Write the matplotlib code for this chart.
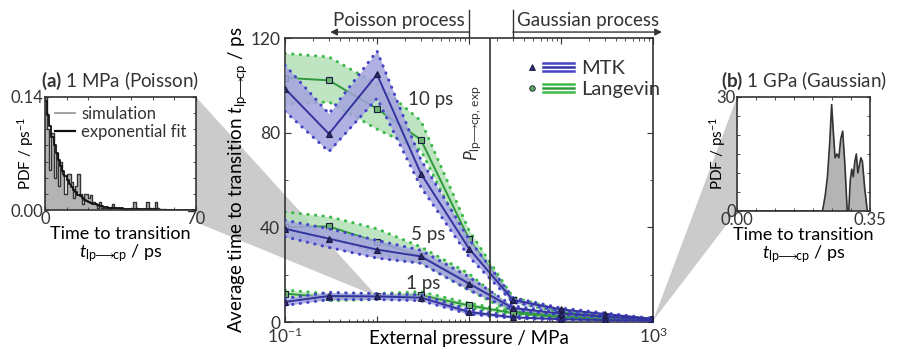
import numpy as np
import matplotlib
matplotlib.use("Agg")
import matplotlib.pyplot as plt
from matplotlib.lines import Line2D
from matplotlib.patches import Polygon
from matplotlib.legend_handler import HandlerBase
from matplotlib.ticker import LogLocator, FixedLocator, MultipleLocator, NullFormatter

plt.rcParams['font.family'] = ['Lato', 'DejaVu Sans']
plt.rcParams['mathtext.fontset'] = 'custom'
plt.rcParams['mathtext.rm'] = 'Lato'
plt.rcParams['mathtext.it'] = 'Lato:italic'
plt.rcParams['mathtext.bf'] = 'Lato:bold'
plt.rcParams['axes.edgecolor'] = '#333333'
plt.rcParams['text.color'] = '#333333'
plt.rcParams['xtick.color'] = '#333333'
plt.rcParams['ytick.color'] = '#333333'

# ---- data: main panel (external pressure in MPa, time in ps) ----
pressure = [0.1, 0.3, 1, 3, 10, 30, 100, 300, 1000]
p_exp = 17

mtk_10 = [98.6, 79.5, 104.6, 62.7, 31.0, 9.3, 5.3, 3.4, 1.3]
mtk_10_hi = [108.5, 88.0, 114.5, 68.5, 35.0, 10.3, 5.9, 3.8, 1.5]
mtk_10_lo = [89.0, 72.0, 94.5, 57.0, 27.5, 8.3, 4.7, 3.0, 1.1]

lan_10 = [103.2, 102.1, 90.1, 77.0, 35.0, 9.5, 4.5, 2.5, 1.2]
lan_10_hi = [113.5, 112.0, 100.5, 85.0, 38.7, 10.5, 5.0, 2.8, 1.4]
lan_10_lo = [92.0, 93.0, 81.5, 72.5, 31.5, 8.5, 4.0, 2.2, 1.0]

mtk_5 = [39.4, 35.2, 30.6, 27.7, 16.2, 5.9, 3.5, 2.3, 1.0]
mtk_5_hi = [43.0, 39.4, 34.5, 30.3, 19.0, 6.8, 4.0, 2.6, 1.2]
mtk_5_lo = [36.0, 31.5, 27.0, 24.8, 13.5, 5.0, 3.0, 2.0, 0.8]

lan_5 = [40.1, 40.4, 33.8, 27.9, 16.9, 4.5, 2.8, 1.8, 0.9]
lan_5_hi = [46.5, 44.5, 39.4, 31.7, 20.4, 5.3, 3.2, 2.1, 1.1]
lan_5_lo = [36.0, 36.0, 29.0, 25.0, 13.5, 3.8, 2.4, 1.5, 0.7]

mtk_1 = [8.5, 11.0, 10.8, 10.3, 4.2, 2.0, 1.2, 0.8, 0.5]
mtk_1_hi = [10.0, 12.5, 12.0, 11.5, 5.2, 2.5, 1.5, 1.0, 0.6]
mtk_1_lo = [7.0, 9.5, 9.5, 9.0, 3.3, 1.6, 0.9, 0.6, 0.4]

lan_1 = [12.0, 10.4, 10.8, 11.3, 7.0, 3.8, 2.0, 1.3, 0.8]
lan_1_hi = [13.5, 12.0, 12.0, 12.8, 8.0, 4.4, 2.4, 1.6, 1.0]
lan_1_lo = [10.5, 9.0, 9.5, 10.0, 6.0, 3.2, 1.7, 1.1, 0.6]

# ---- data: inset (a), 1 MPa, 1 ps bins ----
t_a = list(range(0, 71))
sim_a = [0.140, 0.100, 0.050, 0.095, 0.040, 0.070, 0.030, 0.060, 0.045, 0.020,
         0.045, 0.045, 0.035, 0.015, 0.030, 0.045, 0.020, 0.008, 0.020, 0.020,
         0.015, 0.018, 0.010, 0.008, 0.003, 0.010, 0.003, 0.003, 0.002, 0.002,
         0.004, 0.008, 0.002, 0.002, 0.002, 0.001, 0.001, 0.001, 0.001, 0.001,
         0.001, 0.010, 0.002, 0.001, 0.001, 0.001, 0.001, 0.010, 0.002, 0.001,
         0.001, 0.010, 0.002, 0.001, 0.001, 0.001, 0.000, 0.000, 0.000, 0.000,
         0.000, 0.000, 0.000, 0.000, 0.000, 0.000, 0.000, 0.000, 0.000, 0.000]
fit_a = [0.135, 0.118, 0.104, 0.091, 0.080, 0.070, 0.062, 0.054, 0.048, 0.042,
         0.037, 0.032, 0.028, 0.025, 0.022, 0.019, 0.017, 0.015, 0.013, 0.011,
         0.010, 0.009, 0.008, 0.007, 0.006, 0.005, 0.005, 0.004, 0.004, 0.003,
         0.003, 0.003, 0.002, 0.002, 0.002, 0.002, 0.001, 0.001, 0.001, 0.001,
         0.001, 0.001, 0.001, 0.001, 0.001, 0.001, 0.001, 0.001, 0.001, 0.001,
         0.001, 0.001, 0.000, 0.000, 0.000, 0.000, 0.000, 0.000, 0.000, 0.000,
         0.000, 0.000, 0.000, 0.000, 0.000, 0.000, 0.000, 0.000, 0.000, 0.000]

# ---- data: inset (b), 1 GPa ----
t_b = [0.00, 0.225, 0.232, 0.238, 0.244, 0.249, 0.254, 0.258, 0.263, 0.268, 0.273,
       0.278, 0.284, 0.290, 0.294, 0.298, 0.302, 0.306, 0.310, 0.314, 0.318, 0.322,
       0.326, 0.330, 0.336, 0.343, 0.35]
pdf_b = [0, 0, 4, 9, 18, 28, 20, 14, 15, 14, 19, 21, 12, 0, 0, 8, 11, 9, 13, 15,
         10, 12, 14, 13, 6, 0, 0]

c_mtk, c_mtk_band, c_mtk_dot = '#34349e', '#a3a3de', '#4545c8'
c_lan, c_lan_band, c_lan_dot = '#2f9a3c', '#b3e0b8', '#3dbb4a'
c_wedge = '#cbcbcb'
arrow_lbl = r'_{\mathrm{lp\!\!\longrightarrow\!\!cp}}'

fig = plt.figure(figsize=(9.04, 3.51), dpi=100)
ax = fig.add_axes([0.3153, 0.0826, 0.4071, 0.8091])
ax_a = fig.add_axes([0.0498, 0.4017, 0.1670, 0.3220])
ax_b = fig.add_axes([0.8153, 0.3989, 0.1471, 0.3248])


def band(mean, lo, hi, line_c, band_c, dot_c, marker, mfc, z):
    ax.fill_between(pressure, lo, hi, color=band_c, alpha=0.85, lw=0, zorder=z)
    for edge in (hi, lo):
        ax.plot(pressure, edge, ls=(0, (0.1, 2.4)), lw=2.2, color=dot_c,
                zorder=z + 0.1, dash_capstyle='round')
    ax.plot(pressure, mean, color=line_c, lw=1.4, marker=marker, ms=4,
            mfc=mfc, mec='#1a1a40', mew=0.8, zorder=z + 0.2)


# Langevin drawn first, MTK on top
for m, lo, hi in [(lan_10, lan_10_lo, lan_10_hi), (lan_5, lan_5_lo, lan_5_hi),
                  (lan_1, lan_1_lo, lan_1_hi)]:
    band(m, lo, hi, c_lan, c_lan_band, c_lan_dot, 's', '#6fb56f', 2)
for m, lo, hi in [(mtk_10, mtk_10_lo, mtk_10_hi), (mtk_5, mtk_5_lo, mtk_5_hi),
                  (mtk_1, mtk_1_lo, mtk_1_hi)]:
    band(m, lo, hi, c_mtk, c_mtk_band, c_mtk_dot, '^', '#2a2a70', 3)

ax.axvline(p_exp, color='#333333', lw=1.2, zorder=5)
ax.set_xscale('log')
ax.set_xlim(0.1, 1000)
ax.set_ylim(0, 120)
ax.xaxis.set_minor_locator(LogLocator(base=10, subs=np.arange(2, 10), numticks=20))
ax.xaxis.set_minor_formatter(NullFormatter())
ax.set_xticks([0.1, 1, 10, 100, 1000])
ax.set_xticklabels(['10$^{-1}$', '', '', '', '10$^{3}$'])
ax.yaxis.set_major_locator(FixedLocator([0, 40, 80, 120]))
ax.yaxis.set_minor_locator(MultipleLocator(20))
ax.tick_params(which='both', direction='in', top=True, right=True, labelsize=12.5)
ax.tick_params(which='major', length=4)
ax.tick_params(which='minor', length=2.5)
ax.set_xlabel('External pressure / MPa', fontsize=13.5, labelpad=-12)
ax.set_ylabel(r'Average time to transition $t' + arrow_lbl + '$ / ps',
              fontsize=13.5, labelpad=1)
for s in ax.spines.values():
    s.set_linewidth(1.2)

ax.text(3.8, 94, '10 ps', fontsize=13.5, ha='center', va='center', zorder=6)
ax.text(3.6, 37, '5 ps', fontsize=13.5, ha='center', va='center', zorder=6)
ax.text(3.2, 16.3, '1 ps', fontsize=13.5, ha='center', va='center', zorder=6)
ax.text(p_exp * 0.86, 84, r'$P_{\mathrm{lp\!\!\longrightarrow\!\!cp,\,exp}}$',
        rotation=90, fontsize=12.5, ha='right', va='center', zorder=6)

# process annotations above the plot
xt = ax.get_xaxis_transform()
ax.plot([10, 10], [1.004, 1.1], color='#333333', lw=1, transform=xt, clip_on=False)
ax.plot([30, 30], [1.004, 1.1], color='#333333', lw=1, transform=xt, clip_on=False)
ax.annotate('', xy=(0.31, 1.021), xytext=(10, 1.021), xycoords=xt, textcoords=xt,
            arrowprops=dict(arrowstyle='-|>', color='#333333', lw=1,
                            mutation_scale=10, shrinkA=0, shrinkB=0))
ax.annotate('', xy=(1250, 1.021), xytext=(30, 1.021), xycoords=xt, textcoords=xt,
            arrowprops=dict(arrowstyle='-|>', color='#333333', lw=1,
                            mutation_scale=10, shrinkA=0, shrinkB=0))
ax.text(9.0, 1.03, 'Poisson process', transform=xt, ha='right', va='bottom',
        fontsize=13.5)
ax.text(33, 1.03, 'Gaussian process', transform=xt, ha='left', va='bottom',
        fontsize=13.5)


class BandKey:
    def __init__(self, dark, light, marker, mfc):
        self.dark, self.light, self.marker, self.mfc = dark, light, marker, mfc


class BandHandler(HandlerBase):
    def create_artists(self, legend, h, xdescent, ydescent, width, height,
                       fontsize, trans):
        yc = height / 2 - ydescent
        arts = [Line2D([-xdescent + 0.06 * width], [yc], marker=h.marker, ms=4,
                       mfc=h.mfc, mec='#1a1a40', mew=0.6, ls='none', transform=trans)]
        for dy, col in [(-0.28 * height, h.light), (0, h.dark), (0.28 * height, h.light)]:
            arts.append(Line2D([-xdescent + 0.3 * width, -xdescent + width],
                               [yc + dy, yc + dy], color=col, lw=1.8, transform=trans))
        return arts


hk = [BandKey(c_mtk, c_mtk_dot, '^', '#2a2a70'), BandKey(c_lan, c_lan_dot, 'o', '#5aa85a')]
ax.legend(hk, ['MTK', 'Langevin'], handler_map={BandKey: BandHandler()},
          loc='upper left', bbox_to_anchor=(0.615, 0.985), frameon=False,
          fontsize=14.5, handlelength=2.2, handletextpad=0.35, labelspacing=0.15)

# ---- inset (a) ----
ax_a.fill_between(t_a, sim_a + [sim_a[-1]], step='post', color='#b4b4b4', lw=0)
ax_a.step(t_a, sim_a + [sim_a[-1]], where='post', color='#333333', lw=1.0)
ax_a.step(t_a, fit_a + [fit_a[-1]], where='post', color='#111111', lw=1.3)
ax_a.plot([], [], color='#9a9a9a', lw=1.3, label='simulation')
ax_a.plot([], [], color='#111111', lw=1.6, label='exponential fit')
ax_a.set_xlim(0, 70)
ax_a.set_ylim(0, 0.14)
ax_a.set_xticks([0, 70])
ax_a.set_yticks([0, 0.14])
ax_a.set_yticklabels(['0.00', '0.14'])
ax_a.xaxis.set_minor_locator(MultipleLocator(10))
ax_a.yaxis.set_minor_locator(MultipleLocator(0.02))
ax_a.tick_params(which='both', direction='in', top=True, right=True, labelsize=12,
                 pad=1)
ax_a.tick_params(which='major', length=3)
ax_a.tick_params(which='minor', length=2)
ax_a.set_title(r'$\mathbf{(a)}$ 1 MPa (Poisson)', fontsize=13.5, pad=7)
ax_a.set_xlabel('Time to transition\n$t' + arrow_lbl + '$ / ps',
                fontsize=13, labelpad=-1, linespacing=1.0)
ax_a.set_ylabel('PDF / ps$^{-1}$', fontsize=11, labelpad=-18)
ax_a.legend(loc='upper right', frameon=False, fontsize=12, handlelength=1.2,
            handletextpad=0.4, labelspacing=0.1, borderaxespad=0.15)
for s in ax_a.spines.values():
    s.set_linewidth(1.2)

# ---- inset (b) ----
ax_b.fill_between(t_b, pdf_b, color='#b4b4b4', lw=0)
ax_b.plot(t_b, pdf_b, color='#333333', lw=1.2)
ax_b.set_xlim(0, 0.35)
ax_b.set_ylim(0, 30)
ax_b.set_xticks([0, 0.35])
ax_b.set_xticklabels(['0.00', '0.35'])
ax_b.set_yticks([0, 30])
ax_b.xaxis.set_minor_locator(MultipleLocator(0.05))
ax_b.yaxis.set_minor_locator(MultipleLocator(5))
ax_b.tick_params(which='both', direction='in', top=True, right=True, labelsize=12,
                 pad=1)
ax_b.tick_params(which='major', length=3)
ax_b.tick_params(which='minor', length=2)
ax_b.set_title(r'$\mathbf{(b)}$ 1 GPa (Gaussian)', fontsize=13.5, pad=7)
ax_b.set_xlabel('Time to transition\n$t' + arrow_lbl + '$ / ps',
                fontsize=13, labelpad=-1, linespacing=1.0)
ax_b.set_ylabel('PDF / ps$^{-1}$', fontsize=11, labelpad=-8)
for s in ax_b.spines.values():
    s.set_linewidth(1.2)

# ---- zoom wedges linking insets to points on the 1 ps MTK curve ----
inv = fig.transFigure.inverted()
tip_a = inv.transform(ax.transData.transform((pressure[2], mtk_1[2])))
tip_b = inv.transform(ax.transData.transform((pressure[-1], mtk_1[-1])))
pa = ax_a.get_position()
pb = ax_b.get_position()
wedge_a = Polygon([(pa.x1, pa.y1), (pa.x1, pa.y0 - 0.035), tuple(tip_a)],
                  closed=True, transform=fig.transFigure, color=c_wedge, lw=0,
                  zorder=0.5, clip_on=False)
wedge_b = Polygon([(pb.x0, pb.y1), (pb.x0, pb.y0), tuple(tip_b)],
                  closed=True, transform=fig.transFigure, color=c_wedge, lw=0,
                  zorder=0.5, clip_on=False)
ax.add_patch(wedge_a)
ax.add_patch(wedge_b)

fig.savefig('out.png', dpi=100)
